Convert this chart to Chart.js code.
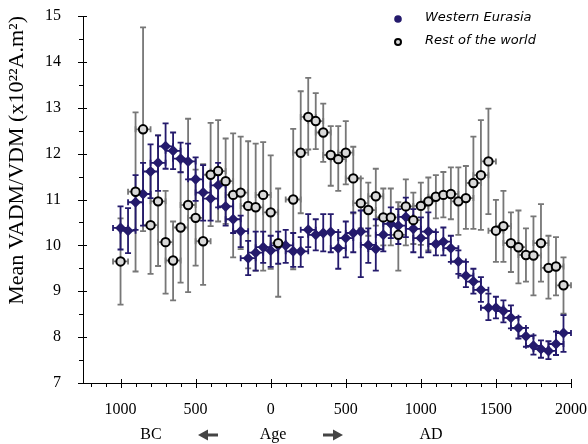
<!DOCTYPE html>
<html>
<head>
<meta charset="utf-8">
<script src="https://cdn.jsdelivr.net/npm/chart.js@4.4.1/dist/chart.umd.min.js"></script>
<style>
  html, body { margin: 0; padding: 0; background: #fff; }
  #wrap { width: 588px; height: 444px; position: relative; }
</style>
</head>
<body>
<div id="wrap"><canvas id="c" width="588" height="444"></canvas></div>
<script>
// ---- Data ----
const years = [-1000,-950,-900,-850,-800,-750,-700,-650,-600,-550,-500,-450,-400,-350,-300,-250,-200,-150,-100,-50,
  0,50,100,150,200,250,300,350,400,450,500,550,600,650,700,750,800,850,900,950,
  1000,1050,1100,1150,1200,1250,1300,1350,1400,1450,1500,1550,1600,1650,1700,1750,1800,1850,1900,1950];

// Western Eurasia
const weMean = [10.38,10.32,10.94,11.12,11.61,11.80,12.16,12.06,11.89,11.83,11.44,11.15,11.02,11.31,10.85,10.57,10.31,9.72,9.84,9.96,
  9.89,10.00,10.00,9.87,9.87,10.34,10.23,10.27,10.29,9.94,10.16,10.27,10.30,10.01,9.92,10.23,10.47,10.43,10.62,10.36,
  10.16,10.30,10.03,10.08,9.94,9.65,9.34,9.21,9.03,8.64,8.64,8.57,8.42,8.20,8.02,7.81,7.74,7.70,7.85,8.09];
const weLow = [9.91,9.83,10.34,10.43,11.03,11.19,11.67,11.66,11.59,11.44,10.97,10.54,10.54,10.83,10.43,10.27,9.96,9.35,9.45,9.62,
  9.53,9.60,9.62,9.53,9.53,9.96,9.89,9.87,9.85,9.49,9.74,9.85,9.31,9.62,9.45,9.87,10.16,10.03,10.18,9.85,
  9.74,9.85,9.78,9.78,9.64,9.38,9.09,8.95,8.77,8.37,8.41,8.32,8.19,7.97,7.79,7.62,7.55,7.52,7.61,7.68];
const weHigh = [10.85,10.81,11.53,11.80,12.20,12.40,12.66,12.46,12.24,12.22,11.92,11.75,11.51,11.80,11.33,11.04,10.65,10.10,10.30,10.30,
  10.21,10.30,10.34,10.27,10.18,10.68,10.57,10.68,10.68,10.29,10.52,10.72,10.76,10.37,10.57,10.65,10.83,10.79,11.04,10.79,
  10.61,10.72,10.29,10.39,10.21,9.89,9.64,9.49,9.31,8.95,8.88,8.80,8.69,8.44,8.20,8.04,7.93,7.91,8.12,8.48];

// Rest of the world (null = no estimate in that bin)
const rwMean = [9.65,null,11.17,12.53,10.44,10.96,10.07,9.67,10.39,10.88,10.60,10.09,11.54,11.62,11.40,11.10,11.15,10.86,10.83,11.10,
  10.72,10.05,null,11.00,12.02,12.80,12.71,12.46,11.97,11.88,12.02,11.46,10.92,10.77,11.07,10.61,10.61,10.23,10.85,10.55,
  10.86,10.96,11.06,11.10,11.12,10.96,11.03,11.36,11.53,11.83,10.32,10.42,10.05,9.96,9.79,9.78,10.05,9.51,9.54,9.13];
const rwLow = [8.71,null,9.43,10.31,9.38,9.55,8.95,8.80,9.19,8.98,9.56,9.14,10.42,10.52,10.47,9.74,9.92,9.50,9.45,9.45,
  9.49,8.88,null,9.48,10.70,12.09,12.10,11.82,11.30,11.19,11.33,10.70,10.37,10.21,10.43,10.00,10.00,9.45,10.00,10.03,
  10.01,9.89,10.59,10.61,10.57,10.23,10.36,10.36,10.34,10.68,9.64,9.64,9.42,9.17,9.21,8.91,9.21,8.84,8.91,8.51];
const rwHigh = [10.59,null,12.90,14.75,11.66,12.40,11.19,10.52,11.60,12.76,11.65,11.77,12.67,12.73,12.33,12.44,12.37,12.27,12.22,12.25,
  11.96,11.24,null,12.54,13.36,13.65,13.32,13.09,12.60,12.60,12.71,12.15,11.46,11.37,11.67,11.24,11.24,10.94,11.44,11.15,
  11.37,11.48,11.53,11.60,11.70,11.70,11.73,12.37,12.73,12.98,10.99,11.19,10.72,10.76,10.37,10.63,10.90,10.21,10.18,9.74];

const binHalfWidth = 50; // years, horizontal error bar half-width
const xTickValues = [-1000,-500,0,500,1000,1500,2000];
const seriesNames = ['Western Eurasia', 'Rest of the world'];

const WE_COLOR = '#241a6c';
const RW_FILL = '#d9d9d9';
const RW_BAR = '#777777';

function pts(mean) {
  const out = [];
  years.forEach((y, i) => { if (mean[i] !== null) out.push({x: y, y: mean[i]}); });
  return out;
}

const errorBarPlugin = {
  id: 'errorBars',
  beforeDatasetsDraw(chart) {
    const ctx = chart.ctx, xs = chart.scales.x, ys = chart.scales.y;
    const sets = [
      {mean: rwMean, lo: rwLow, hi: rwHigh, color: RW_BAR, lw: 1.8},
      {mean: weMean, lo: weLow, hi: weHigh, color: WE_COLOR, lw: 1.8}
    ];
    ctx.save();
    for (const s of sets) {
      ctx.strokeStyle = s.color;
      ctx.lineWidth = s.lw;
      ctx.lineCap = 'butt';
      for (let i = 0; i < years.length; i++) {
        if (s.mean[i] === null) continue;
        const px = xs.getPixelForValue(years[i]);
        const py = ys.getPixelForValue(s.mean[i]);
        const pLo = ys.getPixelForValue(s.lo[i]);
        const pHi = ys.getPixelForValue(s.hi[i]);
        const xl = xs.getPixelForValue(years[i] - binHalfWidth);
        const xr = xs.getPixelForValue(years[i] + binHalfWidth);
        const cap = 3;
        ctx.beginPath();
        ctx.moveTo(px, pLo); ctx.lineTo(px, pHi);
        ctx.moveTo(px - cap, pLo); ctx.lineTo(px + cap, pLo);
        ctx.moveTo(px - cap, pHi); ctx.lineTo(px + cap, pHi);
        ctx.moveTo(xl, py); ctx.lineTo(xr, py);
        ctx.moveTo(xl, py - cap); ctx.lineTo(xl, py + cap);
        ctx.moveTo(xr, py - cap); ctx.lineTo(xr, py + cap);
        ctx.stroke();
      }
    }
    ctx.restore();
  }
};

const decorPlugin = {
  id: 'decor',
  afterDraw(chart) {
    const ctx = chart.ctx, xs = chart.scales.x, ys = chart.scales.y;
    const ca = chart.chartArea;
    ctx.save();
    ctx.strokeStyle = '#000';
    ctx.lineWidth = 1;
    // x ticks every 100 years, majors at 500
    const y0 = ca.bottom;
    for (let v = -1200; v <= 2000; v += 100) {
      const px = Math.round(xs.getPixelForValue(v)) + 0.5;
      ctx.beginPath();
      if (v % 500 === 0) { ctx.moveTo(px, y0 - 4); ctx.lineTo(px, y0 + 5); }
      else { ctx.moveTo(px, y0); ctx.lineTo(px, y0 + 4); }
      ctx.stroke();
    }
    // y ticks every 0.5, majors at integers
    const x0 = ca.left;
    for (let v = 7; v <= 15; v += 0.5) {
      const py = Math.round(ys.getPixelForValue(v)) + 0.5;
      ctx.beginPath();
      if (Number.isInteger(v)) { ctx.moveTo(x0 - 5, py); ctx.lineTo(x0 + 4, py); }
      else { ctx.moveTo(x0 - 4, py); ctx.lineTo(x0, py); }
      ctx.stroke();
    }
    // Legend
    const lx = 398, ly1 = 19, ly2 = 42;
    ctx.fillStyle = WE_COLOR;
    ctx.beginPath(); ctx.arc(lx, ly1, 3.8, 0, Math.PI * 2); ctx.fill();
    ctx.fillStyle = RW_FILL; ctx.strokeStyle = '#000'; ctx.lineWidth = 2;
    ctx.beginPath(); ctx.arc(lx, ly2, 3, 0, Math.PI * 2); ctx.fill(); ctx.stroke();
    ctx.fillStyle = '#000';
    ctx.font = 'italic 13px "DejaVu Sans"';
    ctx.textBaseline = 'middle';
    ctx.textAlign = 'left';
    ctx.fillText(seriesNames[0], 425, 18);
    ctx.fillText(seriesNames[1], 425, 41);
    // Bottom labels
    ctx.font = '16px "Liberation Serif"';
    ctx.textAlign = 'center';
    ctx.fillStyle = '#000';
    ctx.fillText('BC', 151, 435);
    ctx.fillText('Age', 273, 435);
    ctx.fillText('AD', 431, 435);
    // arrows
    ctx.fillStyle = '#444'; ctx.strokeStyle = '#444'; ctx.lineWidth = 3;
    function arrow(xFrom, xTo, y) {
      const dir = Math.sign(xTo - xFrom);
      ctx.beginPath(); ctx.moveTo(xFrom, y); ctx.lineTo(xTo - dir * 7, y); ctx.stroke();
      ctx.beginPath(); ctx.moveTo(xTo, y); ctx.lineTo(xTo - dir * 10, y - 5.5); ctx.lineTo(xTo - dir * 10, y + 5.5); ctx.closePath(); ctx.fill();
    }
    arrow(218, 198, 435);
    arrow(323, 343, 435);
    ctx.restore();
  }
};

new Chart(document.getElementById('c'), {
  type: 'scatter',
  data: {
    datasets: [
      {
        label: seriesNames[0],
        data: pts(weMean),
        pointStyle: 'rectRot',
        pointRadius: 5.5,
        backgroundColor: WE_COLOR,
        borderColor: WE_COLOR,
        borderWidth: 0,
        order: 1
      },
      {
        label: seriesNames[1],
        data: pts(rwMean),
        pointStyle: 'circle',
        pointRadius: 4.2,
        backgroundColor: RW_FILL,
        borderColor: '#000',
        borderWidth: 2,
        order: 0
      }
    ]
  },
  options: {
    responsive: false,
    animation: false,
    events: [],
    layout: { padding: { top: 16, right: 17, left: 0, bottom: 0 } },
    plugins: { legend: { display: false }, tooltip: { enabled: false } },
    scales: {
      x: {
        type: 'linear',
        min: -1250, max: 2000,
        afterBuildTicks: (s) => { s.ticks = xTickValues.map(v => ({value: v})); },
        afterFit: (s) => { s.height = 61; s.paddingLeft = 0; s.paddingRight = 0; },
        grid: { display: false },
        border: { display: true, color: '#000', width: 1 },
        ticks: {
          color: '#000',
          padding: 9,
          font: { family: '"Liberation Serif"', size: 16 },
          callback: (v) => String(Math.abs(v)),
          maxRotation: 0
        }
      },
      y: {
        min: 7, max: 15,
        afterFit: (s) => { s.width = 83; s.paddingTop = 0; s.paddingBottom = 0; },
        grid: { display: false },
        border: { display: true, color: '#000', width: 1 },
        ticks: {
          stepSize: 1,
          color: '#000',
          padding: 14,
          font: { family: '"Liberation Serif"', size: 16 }
        },
        title: {
          display: true,
          text: 'Mean VADM/VDM (x10²²A.m²)',
          align: 'end',
          color: '#000',
          padding: { top: 4, bottom: 0 },
          font: { family: '"Liberation Serif"', size: 22 }
        }
      }
    }
  },
  plugins: [errorBarPlugin, decorPlugin]
});
</script>
</body>
</html>
